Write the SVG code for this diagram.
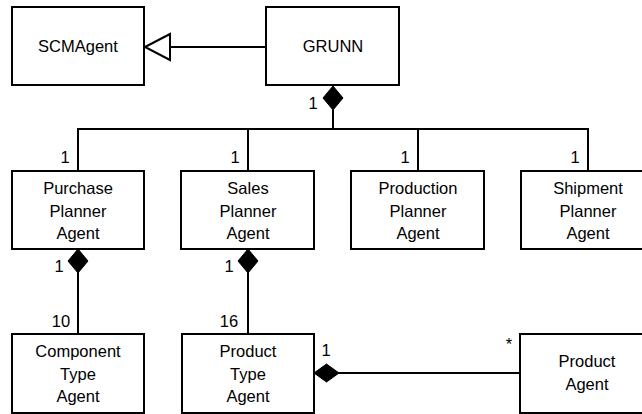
<svg xmlns="http://www.w3.org/2000/svg" width="642" height="414" viewBox="0 0 642 414">
<defs>
<style>
.box{fill:#fff;stroke:#000;stroke-width:2}
.ln{fill:none;stroke:#000;stroke-width:2}
.dia{fill:#000;stroke:#000;stroke-width:1}
.tri{fill:#fff;stroke:#000;stroke-width:2}
text{font-family:"Liberation Sans",Arial,sans-serif;font-size:16.5px;fill:#000}
.c{text-anchor:middle}
</style>
</defs>
<g id="connectors">
<line class="ln" x1="170" y1="47" x2="266" y2="47"/>
<polygon class="tri" points="145,47 170,34 170,60"/>
<polyline class="ln" points="333,110 333,129"/>
<polyline class="ln" points="78,171 78,129 588,129 588,171"/>
<line class="ln" x1="248" y1="129" x2="248" y2="171"/>
<line class="ln" x1="418" y1="129" x2="418" y2="171"/>
<polygon class="dia" points="333,86 343,98 333,110 323,98"/>
<line class="ln" x1="78" y1="272" x2="78" y2="334"/>
<polygon class="dia" points="78,249 88,261 78,273 68,261"/>
<line class="ln" x1="248" y1="272" x2="248" y2="334"/>
<polygon class="dia" points="248,249 258,261 248,273 238,261"/>
<line class="ln" x1="338" y1="373" x2="520" y2="373"/>
<polygon class="dia" points="314,373 326.5,364 339,373 326.5,382"/>
<text x="313" y="109" class="c">1</text>
<text x="65" y="163" class="c">1</text>
<text x="235" y="163" class="c">1</text>
<text x="405" y="163" class="c">1</text>
<text x="575" y="163" class="c">1</text>
<text x="59" y="272" class="c">1</text>
<text x="229" y="272" class="c">1</text>
<text x="61" y="327" class="c">10</text>
<text x="229" y="327" class="c">16</text>
<text x="326" y="356" class="c">1</text>
<text x="509" y="350" class="c">*</text>
</g>
<g id="SCMAgent">
<rect class="box" x="12" y="7" width="132" height="78"/>
<text x="78" y="52" class="c">SCMAgent</text>
</g>
<g id="GRUNN">
<rect class="box" x="266" y="7" width="133" height="78"/>
<text x="333" y="52" class="c">GRUNN</text>
</g>
<g id="PurchasePlannerAgent">
<rect class="box" x="12" y="171" width="132" height="78"/>
<text x="78" y="194" class="c">Purchase</text>
<text x="78" y="216.5" class="c">Planner</text>
<text x="78" y="239" class="c">Agent</text>
</g>
<g id="SalesPlannerAgent">
<rect class="box" x="181" y="171" width="133" height="78"/>
<text x="248" y="194" class="c">Sales</text>
<text x="248" y="216.5" class="c">Planner</text>
<text x="248" y="239" class="c">Agent</text>
</g>
<g id="ProductionPlannerAgent">
<rect class="box" x="351" y="171" width="133" height="78"/>
<text x="418" y="194" class="c">Production</text>
<text x="418" y="216.5" class="c">Planner</text>
<text x="418" y="239" class="c">Agent</text>
</g>
<g id="ShipmentPlannerAgent">
<rect class="box" x="521" y="171" width="134" height="78"/>
<text x="588" y="194" class="c">Shipment</text>
<text x="588" y="216.5" class="c">Planner</text>
<text x="588" y="239" class="c">Agent</text>
</g>
<g id="ComponentTypeAgent">
<rect class="box" x="12" y="334" width="132" height="79"/>
<text x="78" y="357" class="c">Component</text>
<text x="78" y="380" class="c">Type</text>
<text x="78" y="402" class="c">Agent</text>
</g>
<g id="ProductTypeAgent">
<rect class="box" x="182" y="334" width="132" height="79"/>
<text x="248" y="357" class="c">Product</text>
<text x="248" y="380" class="c">Type</text>
<text x="248" y="402" class="c">Agent</text>
</g>
<g id="ProductAgent">
<rect class="box" x="520" y="334" width="134" height="79"/>
<text x="587" y="367" class="c">Product</text>
<text x="587" y="390" class="c">Agent</text>
</g>
</svg>
